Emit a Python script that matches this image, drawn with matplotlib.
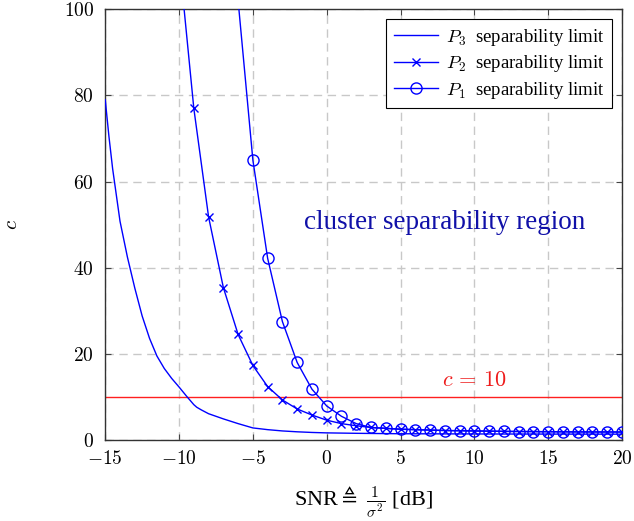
import matplotlib
matplotlib.use("Agg")
import matplotlib.pyplot as plt

# ---- data ----
snr_p3 = [-15, -14.75, -14.5, -14, -13.5, -13, -12.5, -12, -11.5, -11, -10.5, -10, -9.5, -9,
          -8.8, -8.5, -8, -7, -6, -5, -4, -3, -2, -1, 0, 2, 5, 10, 15, 20]
c_p3 = [79.0, 70.5, 63.0, 50.8, 42.5, 35.3, 28.8, 23.6, 19.5, 16.6, 14.3, 12.3, 10.2, 8.2,
        7.6, 7.0, 6.1, 4.9, 3.8, 2.8, 2.4, 2.1, 1.9, 1.75, 1.65, 1.55, 1.45, 1.4, 1.37, 1.35]

snr_p2 = list(range(-10, 21))
c_p2 = [112.0, 77.0, 51.8, 35.4, 24.5, 17.3, 12.4, 9.3, 7.2, 5.8, 4.6, 3.8, 3.3, 2.9,
        2.7, 2.5, 2.4, 2.3, 2.2, 2.15, 2.1, 2.05, 2.0, 1.97, 1.95, 1.92, 1.9, 1.88,
        1.87, 1.86, 1.85]

snr_p1 = list(range(-6, 21))
c_p1 = [102.0, 65.0, 42.2, 27.5, 18.0, 11.8, 7.9, 5.5, 3.8, 2.9,
        2.7, 2.5, 2.4, 2.3, 2.2, 2.15, 2.1, 2.05, 2.0, 1.97, 1.95, 1.92, 1.9, 1.88,
        1.87, 1.86, 1.85]

c_limit = 10
xticks = [-15, -10, -5, 0, 5, 10, 15, 20]
xtick_labels = [r'$-15$', r'$-10$', r'$-5$', r'$0$', r'$5$', r'$10$', r'$15$', r'$20$']
yticks = [0, 20, 40, 60, 80, 100]
ytick_labels = [r'$0$', r'$20$', r'$40$', r'$60$', r'$80$', r'$100$']
legend_labels = [r'$P_3$  separability limit', r'$P_2$  separability limit',
                 r'$P_1$  separability limit']

plt.rcParams['font.family'] = ['Liberation Serif', 'DejaVu Serif']
plt.rcParams['mathtext.fontset'] = 'cm'

fig = plt.figure(figsize=(6.34, 5.21), dpi=100)
ax = fig.add_axes([0.166, 0.1555, 0.815, 0.8265])

ax.axhline(c_limit, color='#ff2020', lw=1.0, zorder=2)
ax.text(10, 11.3, r'$c\,=\,10$', color='#ee1c1c', fontsize=16, ha='center', va='bottom')

ax.plot(snr_p3, c_p3, color='blue', lw=1.0, label=legend_labels[0], zorder=3)
ax.plot(snr_p2, c_p2, color='blue', lw=1.0, marker='x', ms=6, mew=1.0,
        markevery=slice(1, None), label=legend_labels[1], zorder=3)
ax.plot(snr_p1, c_p1, color='blue', lw=1.0, marker='o', ms=8, mew=1.0,
        mfc='none', markevery=slice(1, None), label=legend_labels[2], zorder=3)

ax.text(8.0, 50.6, 'cluster separability region', color='#1010a8', fontsize=19.5,
        ha='center', va='center')

ax.set_xlim(-15, 20)
ax.set_ylim(0, 100)
ax.set_xticks(xticks)
ax.set_xticklabels(xtick_labels, fontsize=14)
ax.set_yticks(yticks)
ax.set_yticklabels(ytick_labels, fontsize=14)
ax.tick_params(direction='in', top=True, right=True, length=4, width=0.8,
               color='#444444')
ax.tick_params(axis='x', pad=7)
ax.tick_params(axis='y', pad=8)
ax.grid(True, color='#c8c8c8', ls=(0, (6, 4)), lw=1.0)
ax.set_axisbelow(True)
for s in ax.spines.values():
    s.set_color('#333333')
    s.set_linewidth(1.0)

ax.set_xlabel(r'SNR$\triangleq\ \frac{1}{\sigma^2}$ [dB]', fontsize=16, labelpad=12)
ax.set_ylabel(r'$c$', fontsize=15, labelpad=30)

leg = ax.legend(loc='upper right', fontsize=13.5, frameon=True, fancybox=False,
                edgecolor='black', framealpha=1.0, handlelength=2.35,
                borderaxespad=0.52, labelspacing=0.3, handletextpad=0.45,
                borderpad=0.4)
leg.get_frame().set_linewidth(0.8)

fig.savefig('out.png', dpi=100)
